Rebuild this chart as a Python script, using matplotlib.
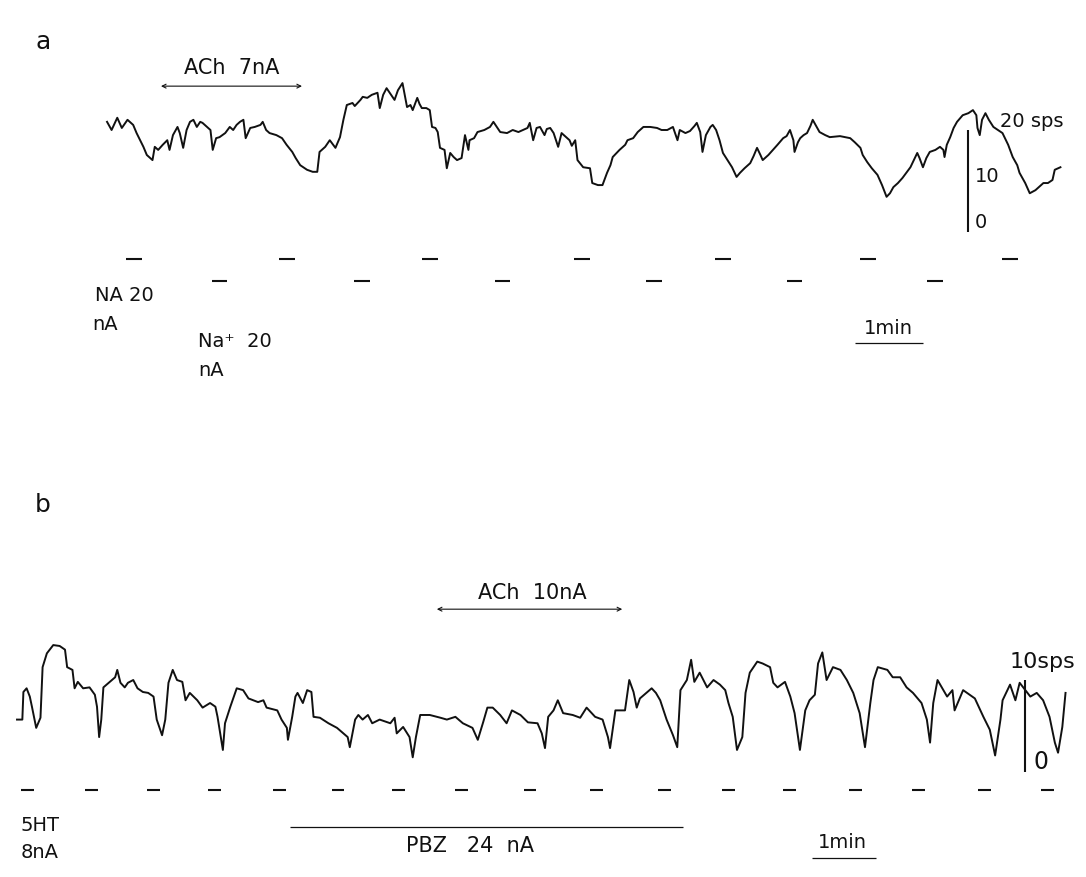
#import libraries
import matplotlib
matplotlib.use("Agg")
import matplotlib.pyplot as plt

#---- panel a : firing rate (sps) against time (s), ACh 7nA / NA / Na+
time_a = [0, 4, 9, 13, 18, 23, 26, 32, 35, 40,
          42, 45, 49, 53, 55, 58, 62, 64, 67, 70,
          73, 76, 79, 82, 84, 88, 91, 93, 96, 99,
          104, 108, 111, 114, 117, 120, 122, 126, 130, 135,
          137, 140, 143, 149, 154, 158, 163, 166, 170, 176,
          181, 185, 187, 192, 196, 201, 205, 208, 211, 216,
          218, 223, 225, 229, 233, 238, 240, 243, 246, 250,
          253, 256, 260, 262, 264, 267, 269, 273, 275, 277,
          281, 284, 286, 289, 291, 293, 297, 299, 302, 305,
          308, 312, 315, 318, 319, 323, 326, 332, 337, 340,
          346, 352, 357, 362, 366, 370, 372, 375, 378, 381,
          385, 387, 390, 393, 397, 400, 403, 407, 409, 412,
          414, 419, 425, 427, 432, 436, 440, 443, 445, 451,
          456, 458, 463, 467, 472, 478, 484, 488, 493, 498,
          502, 504, 509, 513, 517, 519, 522, 524, 527, 531,
          533, 536, 539, 542, 546, 550, 554, 557, 561, 566,
          569, 572, 575, 577, 582, 586, 590, 595, 598, 601,
          604, 605, 608, 610, 613, 616, 619, 621, 624, 627,
          632, 636, 645, 654, 658, 663, 665, 669, 673, 678,
          682, 686, 689, 692, 696, 700, 704, 707, 710, 713,
          715, 718, 721, 724, 729, 733, 736, 737, 739, 742,
          745, 748, 751, 753, 758, 762, 765, 766, 768, 770,
          773, 776, 780, 784, 788, 793, 797, 801, 803, 808,
          812, 817, 821, 824, 828, 832, 834, 837, 839]
rate_a = [21.6, 20.0, 22.4, 20.4, 22.0, 21.0, 19.4, 16.7, 15.1, 14.1,
          16.7, 16.1, 17.1, 18.0, 16.1, 19.0, 20.6, 19.4, 16.5, 20.0,
          21.6, 22.0, 20.6, 21.6, 21.4, 20.6, 20.0, 16.1, 18.4, 18.6,
          19.4, 20.6, 20.0, 21.0, 21.6, 22.0, 18.4, 20.4, 20.6, 21.0,
          21.6, 20.0, 19.4, 19.0, 18.4, 17.1, 15.7, 14.5, 13.1, 12.2,
          11.8, 11.8, 15.7, 16.7, 18.0, 16.5, 18.6, 22.0, 24.9, 25.3,
          24.7, 25.9, 26.5, 26.3, 26.9, 27.3, 24.3, 26.9, 28.2, 26.9,
          25.9, 27.8, 29.2, 26.9, 24.5, 24.9, 23.9, 26.3, 25.1, 24.3,
          24.3, 23.9, 20.6, 20.4, 19.6, 16.5, 16.1, 12.5, 15.5, 14.7,
          14.1, 14.5, 19.0, 16.1, 18.0, 18.4, 19.6, 20.0, 20.6, 21.6,
          19.6, 19.4, 20.0, 19.6, 20.0, 20.4, 21.4, 18.0, 20.4, 20.6,
          19.0, 20.2, 20.4, 19.4, 16.7, 19.4, 18.8, 18.0, 16.9, 18.0,
          14.1, 12.7, 12.5, 9.6, 9.2, 9.2, 11.6, 13.1, 14.7, 16.1,
          17.1, 18.0, 18.4, 19.6, 20.6, 20.6, 20.4, 20.0, 20.0, 20.6,
          18.0, 20.0, 19.4, 19.8, 20.8, 21.4, 19.6, 15.7, 19.0, 20.6,
          21.0, 20.0, 18.0, 15.5, 14.1, 12.7, 10.8, 11.6, 12.5, 13.5,
          14.9, 16.5, 15.1, 14.1, 15.1, 16.1, 17.1, 18.4, 18.8, 20.0,
          18.0, 15.7, 17.6, 18.4, 19.0, 19.4, 20.8, 22.0, 20.8, 19.6,
          19.0, 18.6, 18.8, 18.4, 17.6, 16.5, 15.1, 13.7, 12.5, 11.2,
          9.2, 6.9, 7.6, 8.8, 9.6, 10.6, 11.8, 12.7, 14.1, 15.5,
          14.5, 12.7, 14.5, 15.7, 16.1, 16.7, 16.1, 14.7, 17.1, 18.6,
          20.4, 21.6, 22.4, 22.9, 23.3, 23.9, 22.9, 20.4, 19.0, 22.0,
          23.3, 22.0, 20.6, 20.0, 19.4, 17.1, 14.7, 13.1, 11.6, 9.6,
          7.6, 8.2, 9.0, 9.6, 9.6, 10.2, 12.2, 12.5, 12.7]
na_marks_a = [24, 158, 284, 418, 542, 670, 795]      # NA 20 nA (upper row), s
nap_marks_a = [99, 224, 348, 481, 605, 729]          # Na+ 20 nA (lower row), s
ach_a = [45, 174]                                    # ACh 7nA on / off, s

#---- panel b : firing rate (sps) against time (s), ACh 10nA / 5HT / PBZ
time_b = [0, 5, 6, 9, 12, 14, 18, 22, 24, 28,
          34, 40, 45, 47, 52, 54, 57, 62, 68, 73,
          75, 77, 79, 81, 87, 92, 94, 97, 101, 104,
          109, 113, 118, 123, 128, 131, 136, 139, 142, 146,
          150, 155, 158, 162, 169, 174, 181, 186, 188, 193,
          195, 200, 206, 212, 217, 226, 231, 234, 244, 248,
          253, 254, 258, 261, 263, 268, 272, 276, 278, 284,
          292, 300, 306, 310, 312, 317, 320, 324, 329, 333,
          340, 350, 354, 356, 362, 368, 371, 374, 378, 387,
          397, 403, 411, 418, 427, 432, 437, 441, 446, 453,
          459, 464, 472, 479, 488, 492, 495, 498, 503, 507,
          512, 521, 528, 534, 542, 549, 554, 556, 561, 570,
          574, 578, 581, 584, 590, 595, 599, 603, 609, 615,
          619, 622, 628, 632, 635, 640, 647, 653, 659, 664,
          667, 671, 675, 680, 683, 687, 694, 699, 706, 709,
          713, 720, 725, 729, 734, 739, 743, 748, 751, 755,
          759, 765, 772, 778, 784, 790, 795, 800, 803, 807,
          816, 821, 828, 834, 840, 848, 853, 856, 859, 863,
          872, 877, 879, 887, 898, 906, 912, 917, 922, 924,
          931, 936, 940, 950, 956, 962, 968, 973, 976, 980,
          983]
rate_b = [5.7, 5.7, 8.7, 9.1, 8.2, 7.1, 4.8, 5.9, 11.4, 12.9,
          13.8, 13.7, 13.3, 11.4, 11.1, 9.1, 9.8, 9.1, 9.2, 8.4,
          7.1, 3.8, 5.7, 9.2, 9.8, 10.3, 11.1, 9.7, 9.2, 9.7,
          10.0, 9.1, 8.7, 8.6, 8.2, 5.7, 4.0, 5.7, 9.7, 11.1,
          10.0, 9.8, 7.8, 8.6, 7.8, 7.0, 7.5, 7.1, 6.0, 2.4,
          5.3, 7.1, 9.1, 8.9, 8.0, 7.6, 7.8, 7.0, 6.7, 5.7,
          4.8, 3.5, 6.0, 8.2, 8.6, 7.5, 8.9, 8.7, 6.0, 5.9,
          5.3, 4.8, 4.2, 3.8, 2.7, 5.7, 6.2, 5.7, 6.2, 5.3,
          5.7, 5.3, 5.9, 4.2, 4.9, 3.8, 1.6, 3.8, 6.2, 6.2,
          5.9, 5.7, 6.0, 5.3, 4.8, 3.5, 5.4, 7.0, 7.0, 6.2,
          5.3, 6.7, 6.2, 5.4, 5.3, 4.2, 2.6, 6.0, 6.7, 7.8,
          6.4, 6.2, 5.9, 7.0, 6.0, 5.7, 3.8, 2.6, 6.7, 6.7,
          10.0, 8.7, 7.0, 8.0, 8.6, 9.1, 8.6, 7.8, 5.7, 4.0,
          2.7, 8.9, 10.0, 12.2, 9.8, 10.8, 9.2, 10.0, 9.5, 8.9,
          7.5, 6.0, 2.4, 3.8, 8.6, 10.8, 12.0, 11.8, 11.4, 9.7,
          9.2, 9.8, 8.2, 6.4, 2.4, 6.7, 7.8, 8.4, 11.8, 13.0,
          10.0, 11.4, 11.1, 10.0, 8.6, 6.4, 2.7, 7.5, 10.0, 11.4,
          11.1, 10.3, 10.3, 9.2, 8.6, 7.5, 5.7, 3.2, 7.5, 10.0,
          8.2, 8.9, 6.7, 8.9, 8.0, 6.0, 4.6, 1.8, 5.7, 7.8,
          9.5, 7.8, 9.7, 8.2, 8.6, 7.8, 6.0, 3.2, 2.1, 4.9,
          8.6]
minute_marks_b = [10, 70, 128, 185, 246, 301, 358, 417, 481, 543,
                  607, 667, 724, 786, 845, 907, 966]  # 5HT 8nA marks, s
ach_b = [391, 570]                                    # ACh 10nA on / off, s
pbz_b = [256, 624]                                    # PBZ 24 nA on / off, s

ink = '#111111'
fs = 14

fig = plt.figure(figsize=(10.86, 8.77), dpi=100)
fig.patch.set_facecolor('white')

#---- panel a
ax = fig.add_axes([0, 0.4983, 1, 0.5017])
ax.set_xlim(-94.2, 861.5)
ax.set_ylim(-40.78, 45.49)
ax.axis('off')
ax.plot(time_a, rate_a, color=ink, lw=1.4, solid_joinstyle='round')
ax.text(-56, 37.3, 'a', fontsize=18, ha='center', va='center', color=ink)
ax.text(110, 32.2, 'ACh  7nA', fontsize=15, ha='center', va='center', color=ink)
ax.annotate('', xy=(ach_a[1], 28.6), xytext=(ach_a[0], 28.6),
            arrowprops=dict(arrowstyle='<->', lw=0.8, color=ink, mutation_scale=7))
# scale bar 0-20 sps
ax.vlines(758, 0, 20, color=ink, lw=1.5)
ax.text(786, 21.6, '20 sps', fontsize=fs, ha='left', va='center', color=ink)
ax.text(764, 10.8, '10', fontsize=fs, ha='left', va='center', color=ink)
ax.text(764, 1.8, '0', fontsize=fs, ha='left', va='center', color=ink)
# drug marker rows
ax.hlines([-5.3] * len(na_marks_a), [t - 7 for t in na_marks_a],
          [t + 7 for t in na_marks_a], color=ink, lw=1.5)
ax.hlines([-9.6] * len(nap_marks_a), [t - 7 for t in nap_marks_a],
          [t + 7 for t in nap_marks_a], color=ink, lw=1.5)
ax.text(-11, -12.5, 'NA 20', fontsize=fs, ha='left', va='center', color=ink)
ax.text(-13, -18.2, 'nA', fontsize=fs, ha='left', va='center', color=ink)
ax.text(80, -21.4, 'Na\u207a  20', fontsize=fs, ha='left', va='center', color=ink)
ax.text(80, -27.1, 'nA', fontsize=fs, ha='left', va='center', color=ink)
# 1 min bar
ax.text(688, -19.0, '1min', fontsize=fs, ha='center', va='center', color=ink)
ax.hlines(-21.8, 658, 718, color=ink, lw=0.9)

#---- panel b
ax = fig.add_axes([0, 0, 1, 0.4983])
ax.set_xlim(-15.94, 1002.2)
ax.set_ylim(-11.41, 36.09)
ax.axis('off')
ax.plot(time_b, rate_b, color=ink, lw=1.4, solid_joinstyle='round')
ax.text(24, 29.0, 'b', fontsize=18, ha='center', va='center', color=ink)
ax.text(483, 19.5, 'ACh  10nA', fontsize=15, ha='center', va='center', color=ink)
ax.annotate('', xy=(ach_b[1], 17.7), xytext=(ach_b[0], 17.7),
            arrowprops=dict(arrowstyle='<->', lw=0.8, color=ink, mutation_scale=7))
# scale bar 0-10 sps
ax.vlines(945, 0, 10, color=ink, lw=1.5)
ax.text(931, 12.0, '10sps', fontsize=16, ha='left', va='center', color=ink)
ax.text(960, 1.1, '0', fontsize=17, ha='center', va='center', color=ink)
# marker row
ax.hlines([-1.96] * len(minute_marks_b), [t - 6 for t in minute_marks_b],
          [t + 6 for t in minute_marks_b], color=ink, lw=1.5)
ax.text(3, -5.8, '5HT', fontsize=fs, ha='left', va='center', color=ink)
ax.text(3, -8.7, '8nA', fontsize=fs, ha='left', va='center', color=ink)
ax.hlines(-6.0, pbz_b[0], pbz_b[1], color=ink, lw=0.9)
ax.text(365, -8.0, 'PBZ   24  nA', fontsize=15, ha='left', va='center', color=ink)
ax.text(774, -7.7, '1min', fontsize=fs, ha='center', va='center', color=ink)
ax.hlines(-9.3, 745, 805, color=ink, lw=0.9)

fig.savefig('out.png', dpi=100, facecolor='white')
